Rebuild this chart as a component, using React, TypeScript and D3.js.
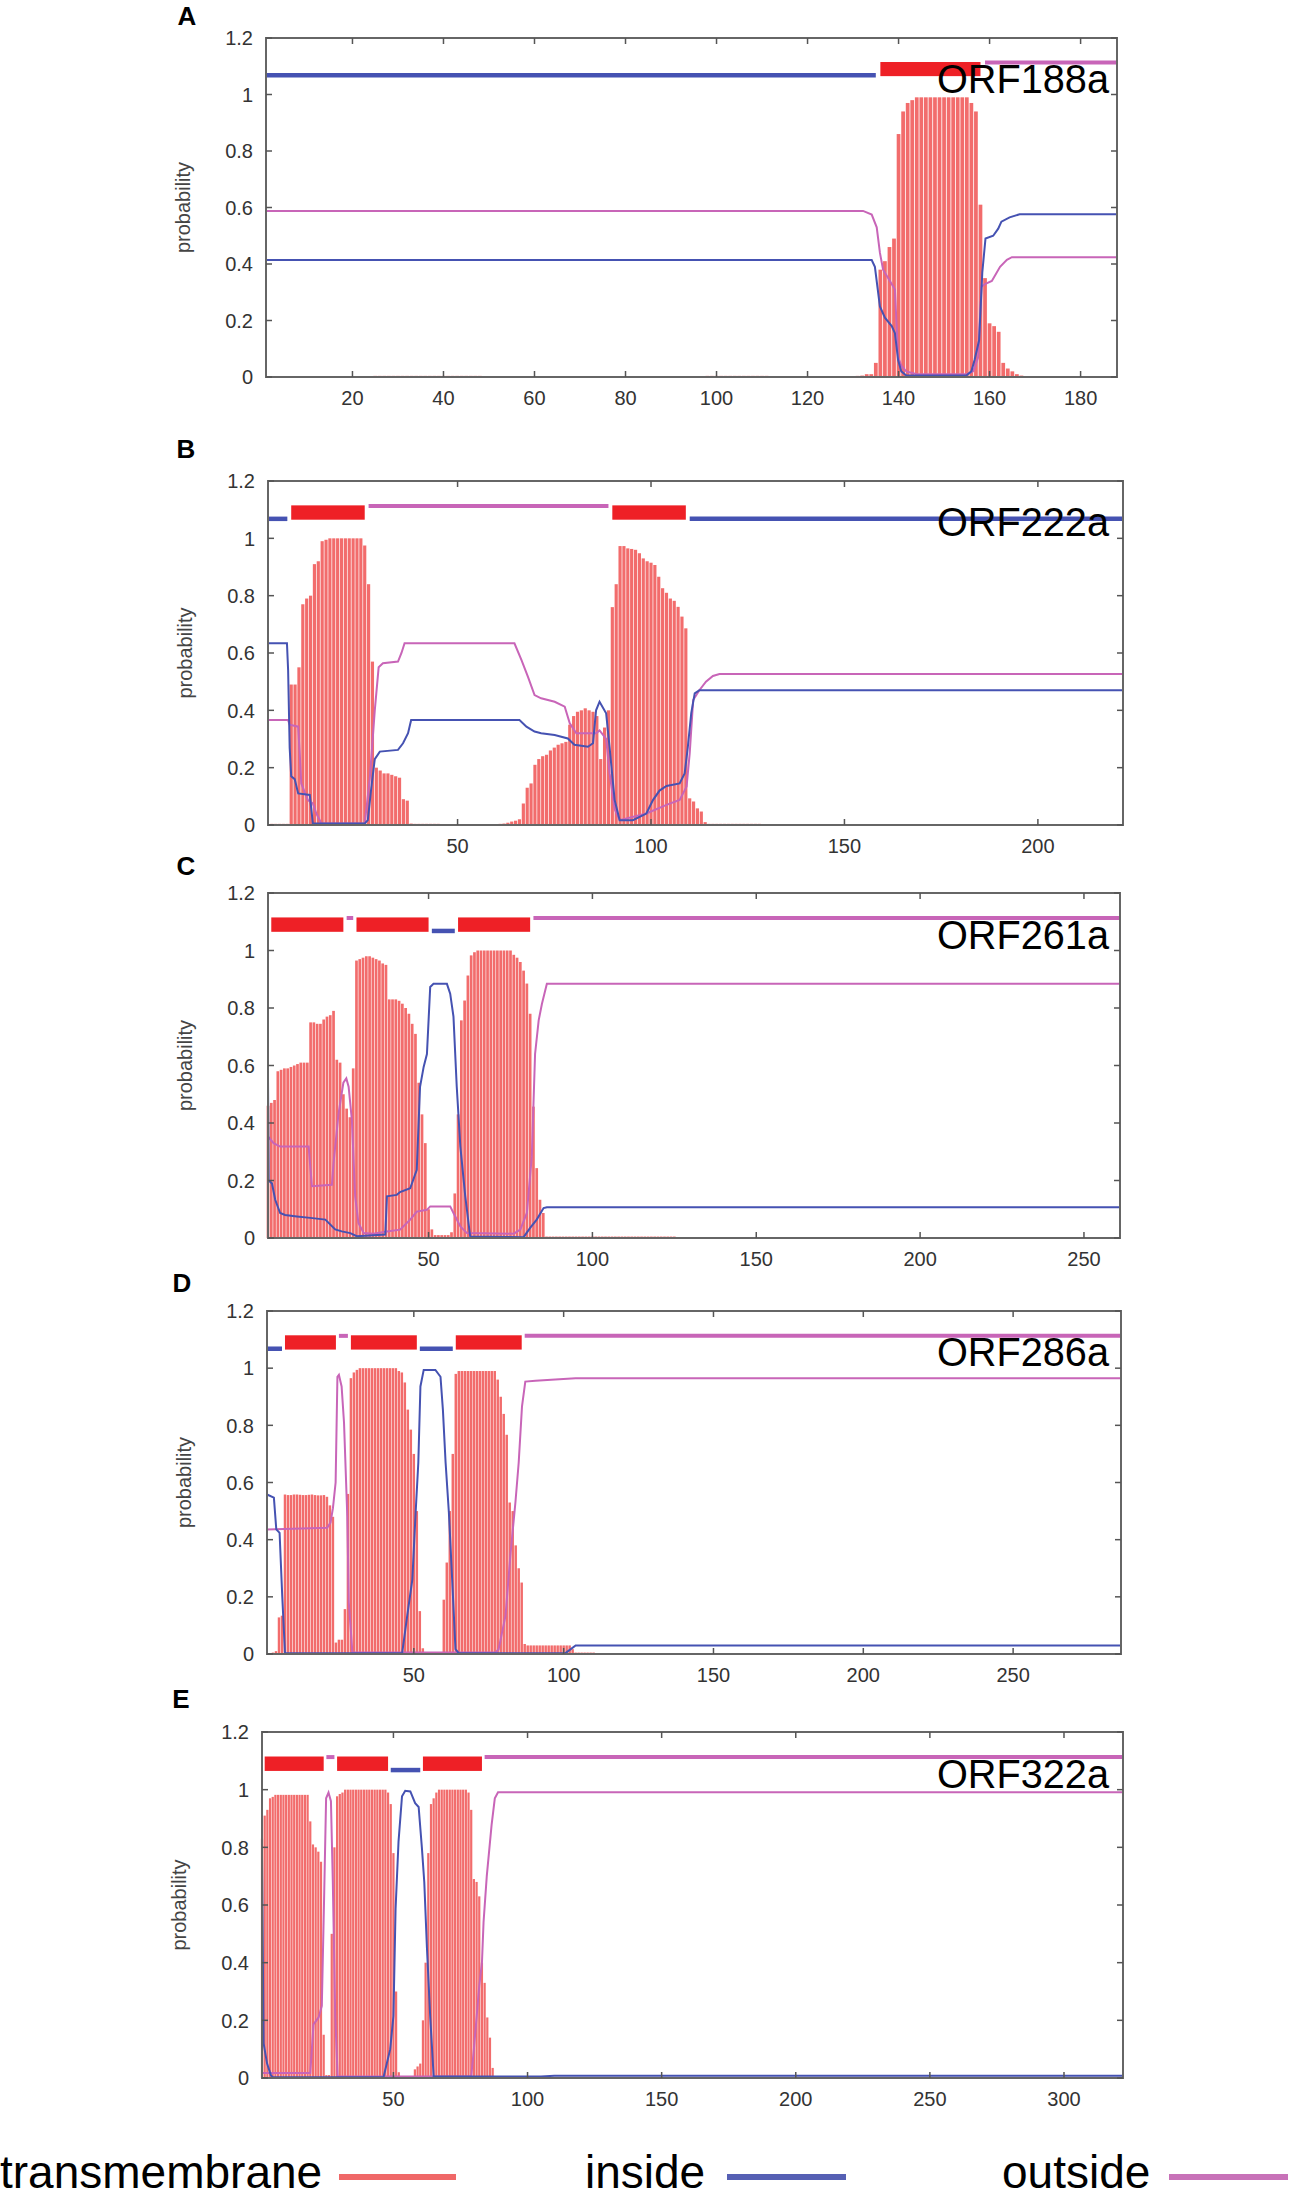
import React from "react";
import * as d3 from "d3";

type Pt = [number, number];
type Run = [number, number[]];
type Seg = ["in" | "out" | "tm", number, number];

// ---- panel A : ORF188a ----
const lenA = 188;
const ticksA = [20, 40, 60, 80, 100, 120, 140, 160, 180];
const tmA: Run[] = [
  [25, [0.004, 0.004, 0.004, 0.004, 0.004, 0.004, 0.004, 0.004, 0.004, 0.004, 0.004, 0.004,
        0.004, 0.004, 0.004, 0.004, 0.004, 0.004, 0.004, 0.004, 0.004, 0.004, 0.004, 0.004]],
  [98, [0.004, 0.004, 0.004, 0.004, 0.004, 0.004, 0.004, 0.004, 0.004, 0.004, 0.004, 0.004, 0.004, 0.004]],
  [131, [0.004, 0.005, 0.01, 0.01, 0.05, 0.38, 0.41, 0.46, 0.49, 0.86, 0.94, 0.97, 0.98,
         0.99, 0.99, 0.99, 0.99, 0.99, 0.99, 0.99, 0.99, 0.99, 0.99, 0.99, 0.99,
         0.97, 0.94, 0.61, 0.35, 0.19, 0.18, 0.16, 0.05, 0.03, 0.02, 0.01, 0.005]],
];
const insideA: Pt[] = [
  [1, 0.414], [134.1, 0.414], [134.8, 0.39], [135.9, 0.25], [137, 0.21], [138.5, 0.18], [139.2, 0.155],
  [139.9, 0.06], [140.6, 0.02], [141.7, 0.005], [154.9, 0.005], [156, 0.02], [156.7, 0.06], [157.7, 0.13],
  [158.4, 0.37], [159.1, 0.49], [160.8, 0.5], [161.9, 0.525], [162.6, 0.55], [164.4, 0.565], [166.6, 0.576], [188, 0.576],
];
const outsideA: Pt[] = [
  [1, 0.588], [132.2, 0.588], [134.1, 0.575], [135.2, 0.53], [135.9, 0.44], [136.6, 0.38], [138.1, 0.34],
  [139.2, 0.31], [139.9, 0.07], [140.6, 0.04], [141.7, 0.02], [144, 0.01], [154.9, 0.01], [156.4, 0.02],
  [157.5, 0.07], [158.2, 0.32], [159.1, 0.33], [160.5, 0.34], [162.3, 0.39], [163.8, 0.415], [164.9, 0.424], [188, 0.424],
];
const topoA: Seg[] = [["in", 1, 135], ["tm", 136, 158], ["out", 159, 188]];

// ---- panel B : ORF222a ----
const lenB = 222;
const ticksB = [50, 100, 150, 200];
const tmB: Run[] = [
  [2, [0.004, 0.004, 0.004, 0.004, 0.004]],
  [7, [0.49, 0.49, 0.55, 0.77, 0.79, 0.8, 0.91, 0.92, 0.99, 0.995,
       1, 1, 1, 1, 1, 1, 1, 1, 1,
       0.975, 0.84, 0.57, 0.2, 0.19, 0.18, 0.18, 0.175, 0.17, 0.165, 0.09, 0.085, 0.005,
       0.004, 0.004, 0.004, 0.004, 0.004, 0.004, 0.004]],
  [61, [0.004, 0.005, 0.008, 0.012, 0.015, 0.02, 0.075, 0.13, 0.145, 0.21, 0.23, 0.24, 0.245, 0.26,
        0.27, 0.28, 0.285, 0.29, 0.35, 0.38, 0.395, 0.4, 0.407, 0.4, 0.395, 0.38, 0.23, 0.34, 0.4,
        0.76, 0.84, 0.973, 0.973, 0.965, 0.963, 0.96, 0.948, 0.93, 0.92, 0.915, 0.907, 0.866, 0.826,
        0.81, 0.79, 0.782, 0.761, 0.727, 0.686,
        0.093, 0.082, 0.058, 0.047, 0.01,
        0.004, 0.004, 0.004, 0.004, 0.004, 0.004, 0.004, 0.004, 0.004, 0.004, 0.004, 0.004, 0.004, 0.004]],
];
const insideB: Pt[] = [
  [1, 0.634], [5.9, 0.634], [6.2, 0.54], [6.6, 0.27], [7, 0.17], [7.9, 0.16], [8.8, 0.11], [11.8, 0.105],
  [12.6, 0.005], [26, 0.005], [26.8, 0.017], [27.7, 0.13], [28.6, 0.23], [29.9, 0.256], [34.6, 0.262],
  [35.9, 0.285], [37.2, 0.32], [38, 0.366], [66, 0.366], [67.8, 0.343], [69.9, 0.326], [71.6, 0.32],
  [75.1, 0.314], [78.5, 0.302], [80.2, 0.28], [83.7, 0.273], [85, 0.285], [85.8, 0.4], [86.7, 0.43],
  [88.4, 0.39], [89.3, 0.27], [90.6, 0.087], [91.9, 0.017], [95.3, 0.017], [98.8, 0.04], [100.5, 0.087],
  [102.2, 0.12], [104, 0.136], [107.4, 0.145], [108.7, 0.18], [109.5, 0.27], [110.4, 0.39], [111.3, 0.459],
  [112.5, 0.47], [222, 0.47],
];
const outsideB: Pt[] = [
  [1, 0.366], [6.2, 0.366], [6.6, 0.35], [8.8, 0.343], [9.2, 0.25], [9.6, 0.145], [11.3, 0.087],
  [12.6, 0.075], [13.5, 0.04], [14.8, 0.005], [26, 0.005], [27.3, 0.16], [28.6, 0.4], [29.6, 0.55],
  [30.7, 0.564], [34.6, 0.57], [35.5, 0.6], [36.3, 0.634], [64.7, 0.634], [66.5, 0.576], [68.2, 0.517],
  [69.9, 0.453], [71.6, 0.442], [75.1, 0.43], [77.7, 0.413], [79, 0.355], [80.7, 0.32], [85.8, 0.32],
  [86.7, 0.33], [88.4, 0.3], [89.3, 0.18], [90.6, 0.055], [91.9, 0.017], [98.8, 0.04], [104, 0.07],
  [107.4, 0.087], [109.2, 0.134], [110, 0.25], [110.9, 0.436], [112.5, 0.47], [114.2, 0.5], [116, 0.52],
  [117.7, 0.527], [222, 0.527],
];
const topoB: Seg[] = [["in", 1, 6], ["tm", 7, 26], ["out", 27, 89], ["tm", 90, 109], ["in", 110, 222]];

// ---- panel C : ORF261a ----
const lenC = 261;
const ticksC = [50, 100, 150, 200, 250];
const tmC: Run[] = [
  [1, [0.46, 0.47, 0.48, 0.58, 0.585, 0.59, 0.59, 0.595, 0.6, 0.605, 0.61, 0.61, 0.61,
       0.75, 0.75, 0.745, 0.745, 0.76, 0.77, 0.775, 0.79, 0.62, 0.61, 0.5, 0.45, 0.42, 0.59,
       0.965, 0.97, 0.975, 0.98, 0.98, 0.975, 0.97, 0.965, 0.955, 0.95,
       0.83, 0.83, 0.83, 0.825, 0.815, 0.8, 0.78, 0.745, 0.71, 0.54, 0.43, 0.33, 0.1,
       0.03, 0.01, 0.01, 0.01, 0.01, 0.01, 0.02,
       0.155, 0.43, 0.757, 0.826, 0.913, 0.983, 0.994,
       1, 1, 1, 1, 1, 1, 1, 1, 1, 1, 1,
       0.985, 0.975, 0.96, 0.93, 0.885, 0.78, 0.457, 0.243, 0.133, 0.087, 0.005]],
  [87, [0.005, 0.005, 0.005, 0.005, 0.005, 0.005, 0.005, 0.005, 0.005, 0.005, 0.005, 0.005, 0.005,
        0.005, 0.005, 0.005, 0.005, 0.005, 0.005, 0.005, 0.005, 0.005, 0.005, 0.005, 0.005, 0.005,
        0.005, 0.005, 0.005, 0.005, 0.005, 0.005, 0.005, 0.005, 0.005, 0.005, 0.005, 0.005, 0.005]],
];
const insideC: Pt[] = [
  [1, 0.55], [1.2, 0.2], [2.2, 0.19], [3.2, 0.133], [4.7, 0.087], [6.2, 0.08], [9.8, 0.075], [13.9, 0.07],
  [18.5, 0.064], [21.5, 0.03], [23.5, 0.023], [26.1, 0.017], [28.1, 0.006], [36.8, 0.012], [37.3, 0.145],
  [40.3, 0.15], [41.3, 0.16], [44.4, 0.173], [46.4, 0.237], [47.4, 0.526], [48.5, 0.595], [49.5, 0.64],
  [50.5, 0.873], [51.5, 0.884], [55.6, 0.884], [56.6, 0.85], [57.6, 0.77], [58.6, 0.526], [59.7, 0.318],
  [61.2, 0.145], [62.7, 0.005], [79, 0.003], [81, 0.035], [83, 0.064], [85.1, 0.104], [86.1, 0.107], [261, 0.107],
];
const outsideC: Pt[] = [
  [1, 0.353], [2.7, 0.33], [4.7, 0.318], [13.4, 0.318], [14.4, 0.18], [20.5, 0.185], [21, 0.26], [22.5, 0.43],
  [24, 0.54], [24.9, 0.555], [25.6, 0.526], [26.6, 0.41], [27.6, 0.145], [28.6, 0.052], [30.2, 0.017],
  [33.2, 0.015], [37.3, 0.023], [41.3, 0.029], [44.4, 0.064], [46.4, 0.092], [49.5, 0.098], [50.5, 0.11],
  [56.6, 0.11], [57.6, 0.087], [59.7, 0.04], [61.7, 0.017], [76, 0.015], [78, 0.029], [80, 0.087],
  [81.5, 0.283], [82.5, 0.64], [83.6, 0.757], [84.6, 0.815], [86.1, 0.884], [261, 0.884],
];
const topoC: Seg[] = [["tm", 2, 24], ["out", 25, 27], ["tm", 28, 50], ["in", 51, 58], ["tm", 59, 81], ["out", 82, 261]];

// ---- panel D : ORF286a ----
const lenD = 286;
const ticksD = [50, 100, 150, 200, 250];
const tmD: Run[] = [
  [3, [0.005, 0.01, 0.128, 0.134,
       0.558, 0.556, 0.556, 0.558, 0.558, 0.557, 0.556, 0.556, 0.557, 0.558, 0.556, 0.555, 0.555, 0.556, 0.55,
       0.52, 0.48, 0.04, 0.05, 0.05, 0.157, 0.56, 0.965, 0.985, 0.994,
       1, 1, 1, 1, 1, 1, 1, 1, 1, 1, 1, 1, 1,
       0.99, 0.985, 0.95, 0.855, 0.785, 0.7, 0.5, 0.15, 0.02]],
  [60, [0.19, 0.32, 0.5, 0.7, 0.98,
        0.99, 0.99, 0.99, 0.99, 0.99, 0.99, 0.99, 0.99, 0.99, 0.99, 0.99, 0.99, 0.99,
        0.96, 0.9, 0.84, 0.767, 0.53, 0.5, 0.38, 0.3, 0.25, 0.035,
        0.03, 0.03, 0.03, 0.03, 0.03, 0.03, 0.03, 0.03, 0.03, 0.03, 0.03, 0.03, 0.03, 0.03, 0.03,
        0.017, 0.005, 0.005, 0.005, 0.005, 0.005, 0.005, 0.005]],
];
const insideD: Pt[] = [
  [1, 0.558], [3.3, 0.547], [4.1, 0.436], [5.2, 0.424], [6.1, 0.2], [7, 0.003], [46.1, 0.003], [47.8, 0.134],
  [49.5, 0.26], [50.6, 0.494], [51.5, 0.67], [52.2, 0.936], [53.3, 0.994], [57.2, 0.994], [58.9, 0.97],
  [59.7, 0.855], [60.6, 0.67], [61.7, 0.494], [62.8, 0.26], [63.9, 0.017], [65, 0.003], [100.6, 0.003],
  [104, 0.03], [286, 0.03],
];
const outsideD: Pt[] = [
  [1, 0.436], [21.1, 0.442], [22.2, 0.46], [23, 0.51], [23.9, 0.6], [24.5, 0.97], [25, 0.977], [25.9, 0.936],
  [26.7, 0.81], [27.8, 0.48], [28.3, 0.18], [29.5, 0.005], [77.2, 0.005], [78.3, 0.017], [80.6, 0.134],
  [82.2, 0.343], [83.9, 0.53], [85, 0.67], [86.1, 0.866], [87.2, 0.953], [90.6, 0.956], [97.2, 0.96],
  [104, 0.965], [286, 0.965],
];
const topoD: Seg[] = [["in", 1, 6], ["tm", 7, 24], ["out", 25, 28], ["tm", 29, 51], ["in", 52, 63], ["tm", 64, 86], ["out", 87, 286]];

// ---- panel E : ORF322a ----
const lenE = 322;
const ticksE = [50, 100, 150, 200, 250, 300];
const tmE: Run[] = [
  [1, [0.83, 0.91, 0.93, 0.97, 0.975,
       0.982, 0.982, 0.982, 0.982, 0.982, 0.982, 0.982, 0.982, 0.982, 0.982, 0.982, 0.982, 0.982,
       0.89, 0.81, 0.8, 0.785, 0.75, 0.15, 0.01, 0.01, 0.5, 0.8, 0.977, 0.985, 0.99,
       1, 1, 1, 1, 1, 1, 1, 1, 1, 1, 1, 1, 1, 1, 1, 1,
       0.99, 0.95, 0.78, 0.3, 0.02,
       0.003, 0.003, 0.003, 0.003, 0.003,
       0.03, 0.04, 0.05, 0.2, 0.4, 0.78, 0.95, 0.97, 0.99,
       1, 1, 1, 1, 1, 1, 1, 1, 1, 1, 1,
       0.99, 0.93, 0.69, 0.68, 0.63, 0.4, 0.33, 0.21, 0.14, 0.035,
       0.003, 0.003, 0.003, 0.003, 0.003, 0.003, 0.003, 0.003, 0.003, 0.003, 0.003, 0.003,
       0.003, 0.003, 0.003, 0.003, 0.003, 0.003, 0.003, 0.003, 0.003, 0.003, 0.003]],
];
const insideE: Pt[] = [
  [1, 0.773], [1.6, 0.12], [2.9, 0.05], [4.3, 0.01], [5, 0.003], [46.3, 0.003], [48.8, 0.1], [50, 0.215],
  [50.8, 0.587], [51.9, 0.82], [53.2, 0.977], [54.4, 0.996], [56.3, 0.994], [58.1, 0.953], [59.4, 0.94],
  [60.6, 0.8], [61.5, 0.68], [62.5, 0.45], [63.7, 0.215], [65, 0.005], [105, 0.005], [110, 0.008], [322, 0.008],
];
const outsideE: Pt[] = [
  [1, 0.017], [19, 0.017], [20.2, 0.186], [22.1, 0.21], [23.3, 0.25], [24.2, 0.645], [24.9, 0.97], [25.8, 0.99],
  [26.7, 0.96], [27.4, 0.68], [28.3, 0.215], [29.2, 0.005], [79, 0.005], [80, 0.1], [82, 0.32], [83, 0.4],
  [83.6, 0.54], [84.8, 0.7], [86.6, 0.878], [87.8, 0.97], [89, 0.991], [322, 0.991],
];
const topoE: Seg[] = [["tm", 2, 24], ["out", 25, 28], ["tm", 29, 48], ["in", 49, 60], ["tm", 61, 83], ["out", 84, 322]];

const yTicks = [0, 0.2, 0.4, 0.6, 0.8, 1, 1.2];
const legendItems = ["transmembrane", "inside", "outside"];

const FONT = "'Liberation Sans', Arial, Helvetica, sans-serif";
const C_BAR = "#f26c6c";
const C_BOX = "#ee2026";
const C_IN = "#4552b2";
const C_OUT = "#c865b8";

interface PanelDef {
  letter: string;
  name: string;
  len: number;
  ticks: number[];
  tm: Run[];
  inside: Pt[];
  outside: Pt[];
  topo: Seg[];
  left: number;
  right: number;
  top: number;
  bottom: number;
  lx: number;
  ly: number;
}

const panels: PanelDef[] = [
  { letter: "A", name: "ORF188a", len: lenA, ticks: ticksA, tm: tmA, inside: insideA, outside: outsideA, topo: topoA,
    left: 266, right: 1117, top: 38, bottom: 377, lx: 187, ly: 25 },
  { letter: "B", name: "ORF222a", len: lenB, ticks: ticksB, tm: tmB, inside: insideB, outside: outsideB, topo: topoB,
    left: 268, right: 1123, top: 481, bottom: 825, lx: 186, ly: 458 },
  { letter: "C", name: "ORF261a", len: lenC, ticks: ticksC, tm: tmC, inside: insideC, outside: outsideC, topo: topoC,
    left: 268, right: 1120, top: 893, bottom: 1238, lx: 186, ly: 875 },
  { letter: "D", name: "ORF286a", len: lenD, ticks: ticksD, tm: tmD, inside: insideD, outside: outsideD, topo: topoD,
    left: 267, right: 1121, top: 1311, bottom: 1654, lx: 182, ly: 1292 },
  { letter: "E", name: "ORF322a", len: lenE, ticks: ticksE, tm: tmE, inside: insideE, outside: outsideE, topo: topoE,
    left: 262, right: 1123, top: 1732, bottom: 2078, lx: 181, ly: 1708 },
];

function Panel({ p }: { p: PanelDef }) {
  const x = d3.scaleLinear().domain([1, p.len]).range([p.left, p.right]);
  const y = d3.scaleLinear().domain([0, 1.2]).range([p.bottom, p.top]);
  const step = x(2) - x(1);
  const barW = step * 0.82;
  const bars: Pt[] = p.tm.flatMap(([start, vals]) => vals.map((v, i) => [start + i, v] as Pt));
  const line = d3.line<Pt>().x((d) => x(d[0])).y((d) => y(d[1]));
  const tk = 6;

  return (
    <g>
      <text x={p.lx} y={p.ly} textAnchor="middle" fontFamily={FONT} fontWeight="bold" fontSize={26}>
        {p.letter}
      </text>

      {bars.map(([r, v]) => (
        <rect key={r} x={x(r) - barW / 2} y={y(v)} width={barW} height={Math.max(0.8, y(0) - y(v))} fill={C_BAR} />
      ))}

      <path d={line(p.outside) || ""} fill="none" stroke={C_OUT} strokeWidth={2} />
      <path d={line(p.inside) || ""} fill="none" stroke={C_IN} strokeWidth={2} />

      {p.topo.map(([kind, s, e], i) =>
        kind === "tm" ? (
          <rect key={i} x={x(s)} y={y(1.115)} width={x(e) - x(s)} height={y(1.065) - y(1.115)} fill={C_BOX} />
        ) : (
          <line key={i} x1={x(s)} x2={x(e)} y1={y(kind === "in" ? 1.068 : 1.113)} y2={y(kind === "in" ? 1.068 : 1.113)}
            stroke={kind === "in" ? C_IN : C_OUT} strokeWidth={kind === "in" ? 4.5 : 4} />
        )
      )}

      <text x={937} y={y(1) - 2} fontFamily={FONT} fontSize={40} fill="#000" textLength={172} lengthAdjust="spacingAndGlyphs">
        {p.name}
      </text>

      <rect x={p.left} y={p.top} width={p.right - p.left} height={p.bottom - p.top} fill="none" stroke="#666" strokeWidth={2} />

      {p.ticks.map((t) => (
        <g key={"x" + t}>
          <line x1={x(t)} x2={x(t)} y1={p.bottom} y2={p.bottom - tk} stroke="#555" strokeWidth={1.5} />
          <line x1={x(t)} x2={x(t)} y1={p.top} y2={p.top + tk} stroke="#555" strokeWidth={1.5} />
          <text x={x(t)} y={p.bottom + 28} textAnchor="middle" fontFamily={FONT} fontSize={20} fill="#333">
            {t}
          </text>
        </g>
      ))}
      {yTicks.map((t) => (
        <g key={"y" + t}>
          <line x1={p.left} x2={p.left + tk} y1={y(t)} y2={y(t)} stroke="#555" strokeWidth={1.5} />
          <line x1={p.right} x2={p.right - tk} y1={y(t)} y2={y(t)} stroke="#555" strokeWidth={1.5} />
          <text x={p.left - 13} y={y(t)} dy="0.36em" textAnchor="end" fontFamily={FONT} fontSize={20} fill="#333">
            {t}
          </text>
        </g>
      ))}
      <text transform={`translate(${p.left - 76},${(p.top + p.bottom) / 2}) rotate(-90)`} textAnchor="middle"
        fontFamily={FONT} fontSize={20} fill="#444">
        probability
      </text>
    </g>
  );
}

const legendText = [0, 585, 1002];
const legendLine: [number, number][] = [[339, 456], [727, 846], [1169, 1288]];
const legendColor = ["#f06868", "#5660b4", "#c872b8"];

export default function App() {
  return (
    <div style={{ position: "absolute", left: 0, top: 0 }}>
      <svg width={1299} height={2203} style={{ display: "block", background: "#fff" }}>
        <rect width={1299} height={2203} fill="#fff" />
        {panels.map((p) => (
          <Panel key={p.letter} p={p} />
        ))}
        {legendItems.map((name, i) => (
          <g key={name}>
            <text x={legendText[i]} y={2188} fontFamily={FONT} fontSize={46} fill="#000">
              {name}
            </text>
            <line x1={legendLine[i][0]} x2={legendLine[i][1]} y1={2177} y2={2177} stroke={legendColor[i]} strokeWidth={6} />
          </g>
        ))}
      </svg>
    </div>
  );
}
